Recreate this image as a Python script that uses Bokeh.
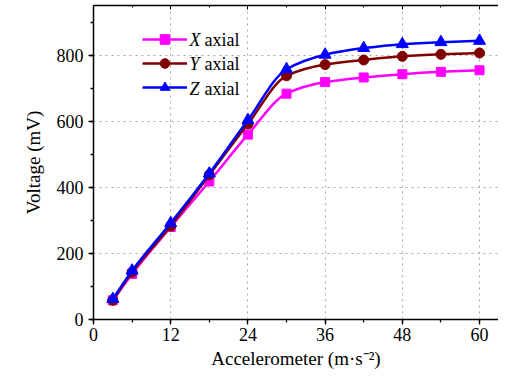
import numpy as np
from bokeh.plotting import figure
from bokeh.models import (Range1d, SingleIntervalTicker, LinearAxis, Legend, LegendItem,
                          ColumnDataSource, CustomJSTickFormatter, Label)
from bokeh.embed import file_html
from bokeh.resources import INLINE

# ---- data ----
accel = [3, 6, 12, 18, 24, 30, 36, 42, 48, 54, 60]
x_axial = [58, 138, 280, 418, 560, 684, 719, 733, 743, 750, 755]
y_axial = [58, 143, 283, 438, 592, 738, 772, 786, 797, 803, 807]
z_axial = [62, 148, 292, 442, 604, 758, 802, 822, 834, 840, 844]
axis_letters = ["X", "Y", "Z"]
series_suffix = "axial"
x_ticks_interval = 12
y_ticks_interval = 200

FONT = "Liberation Serif"


def smooth_segments(xs, ys):
    """Monotone cubic (Fritsch-Carlson) Bezier control points through the data points."""
    x = np.asarray(xs, float)
    y = np.asarray(ys, float)
    h = np.diff(x)
    d = np.diff(y) / h
    n = len(x)
    m = np.zeros(n)
    m[0], m[-1] = d[0], d[-1]
    for i in range(1, n - 1):
        if d[i - 1] * d[i] <= 0:
            m[i] = 0
        else:
            w1 = 2 * h[i] + h[i - 1]
            w2 = h[i] + 2 * h[i - 1]
            m[i] = (w1 + w2) / (w1 / d[i - 1] + w2 / d[i])
    return dict(
        x0=x[:-1], y0=y[:-1], x1=x[1:], y1=y[1:],
        cx0=x[:-1] + h / 3, cy0=y[:-1] + m[:-1] * h / 3,
        cx1=x[1:] - h / 3, cy1=y[1:] - m[1:] * h / 3,
    )


p = figure(width=498, height=372, x_range=Range1d(0, 62.95), y_range=Range1d(0, 951),
           output_backend="svg", toolbar_location=None,
           min_border_left=93, min_border_right=0, min_border_top=5, min_border_bottom=53,
           background_fill_color="white", border_fill_color="white")
p.outline_line_color = None

# axes
for ax in (p.xaxis[0], p.yaxis[0]):
    ax.axis_line_width = 1.5
    ax.axis_line_color = "black"
    ax.major_tick_line_color = "black"
    ax.minor_tick_line_color = "black"
    ax.major_tick_line_width = 1.3
    ax.minor_tick_line_width = 1.3
    ax.major_tick_in = 0
    ax.minor_tick_in = 0
    ax.major_tick_out = 5
    ax.minor_tick_out = 3
    ax.major_label_text_font = FONT
    ax.major_label_text_font_size = "18px"
    ax.major_label_text_color = "black"
    ax.axis_label_text_font = FONT
    ax.axis_label_text_font_size = "19px"
    ax.axis_label_text_font_style = "normal"
    ax.axis_label_text_color = "black"

p.xaxis.ticker = SingleIntervalTicker(interval=x_ticks_interval, num_minor_ticks=2)
p.yaxis.ticker = SingleIntervalTicker(interval=y_ticks_interval, num_minor_ticks=2)
p.xaxis.axis_label = "Accelerometer (m\u00b7s\u207b\u00b2)"
p.yaxis.axis_label = "Voltage (mV)"
p.xaxis.major_label_standoff = 3
p.yaxis.major_label_standoff = 5
p.xaxis.axis_label_standoff = 4
p.yaxis.axis_label_standoff = 10

# top mirror axis (ticks pointing inward, no labels)
top = LinearAxis(ticker=SingleIntervalTicker(interval=x_ticks_interval, num_minor_ticks=2),
                 formatter=CustomJSTickFormatter(code="return ''"),
                 axis_line_width=1.5, major_tick_in=4, major_tick_out=0,
                 minor_tick_in=2, minor_tick_out=0, major_label_standoff=0,
                 axis_label_standoff=0, major_label_text_font_size="0px")
p.add_layout(top, "above")

# grid
for g in (p.xgrid[0], p.ygrid[0]):
    g.grid_line_color = "#a8a8a8"
    g.grid_line_dash = "dotted"
    g.grid_line_width = 1

colors = ["#ff00ff", "#800000", "#0000ff"]
markers = ["square", "circle", "triangle"]
sizes = [9, 10, 12]
items = []
for letter, vals, c, mk, sz in zip(axis_letters, [x_axial, y_axial, z_axial], colors, markers, sizes):
    seg = ColumnDataSource(smooth_segments(accel, vals))
    r_line = p.bezier(x0="x0", y0="y0", x1="x1", y1="y1", cx0="cx0", cy0="cy0",
                      cx1="cx1", cy1="cy1", source=seg, line_color=c, line_width=2.5)
    r_pts = p.scatter(accel, vals, marker=mk, size=sz, fill_color=c, line_color=c)
    items.append(LegendItem(label=" ", renderers=[r_line, r_pts]))

legend = Legend(items=items, location=(49, 220), padding=0, margin=0,
                border_line_color=None, background_fill_alpha=0,
                glyph_width=45, glyph_height=24, label_height=24, spacing=0,
                label_standoff=0, label_width=0, label_text_font_size="1px")
p.add_layout(legend, "center")

# legend texts: italic axis letter + upright "axial" (frame-relative screen units)
row_y = [280, 256, 231]
for letter, yy in zip(axis_letters, row_y):
    p.add_layout(Label(x=96, y=yy, x_units="screen", y_units="screen", text=letter,
                       text_font=FONT, text_font_size="18px", text_font_style="italic",
                       text_baseline="middle", text_align="left", text_color="black"))
    p.add_layout(Label(x=111, y=yy, x_units="screen", y_units="screen", text=series_suffix,
                       text_font=FONT, text_font_size="18px", text_font_style="normal",
                       text_baseline="middle", text_align="left", text_color="black"))

open("out.html", "w").write(file_html(p, INLINE))
